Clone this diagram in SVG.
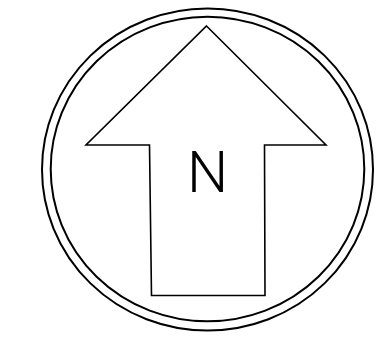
<svg xmlns="http://www.w3.org/2000/svg" width="377" height="345" viewBox="0 0 377 345">
<style>
.ring{fill:none;stroke:#000;stroke-width:2}
.arrow{fill:#fff;stroke:#000;stroke-width:1.6;stroke-linejoin:miter}
.lbl{font-family:Roboto,"Liberation Sans",sans-serif;font-weight:300;font-size:58px;fill:#000}
</style>
<rect width="377" height="345" fill="#fff"/>
<g id="compass">
<ellipse class="ring" cx="207.5" cy="169.5" rx="165.5" ry="161"/>
<ellipse class="ring" cx="207.5" cy="169" rx="156.8" ry="152.3"/>
</g>
<g id="arrow">
<path class="arrow" d="M206.5 26 L326 145 L264.5 145 L265 295.5 L151.5 295.5 L149.5 145 L86 145 Z"/>
<text class="lbl" x="207.5" y="191.7" text-anchor="middle">N</text>
</g>
</svg>
